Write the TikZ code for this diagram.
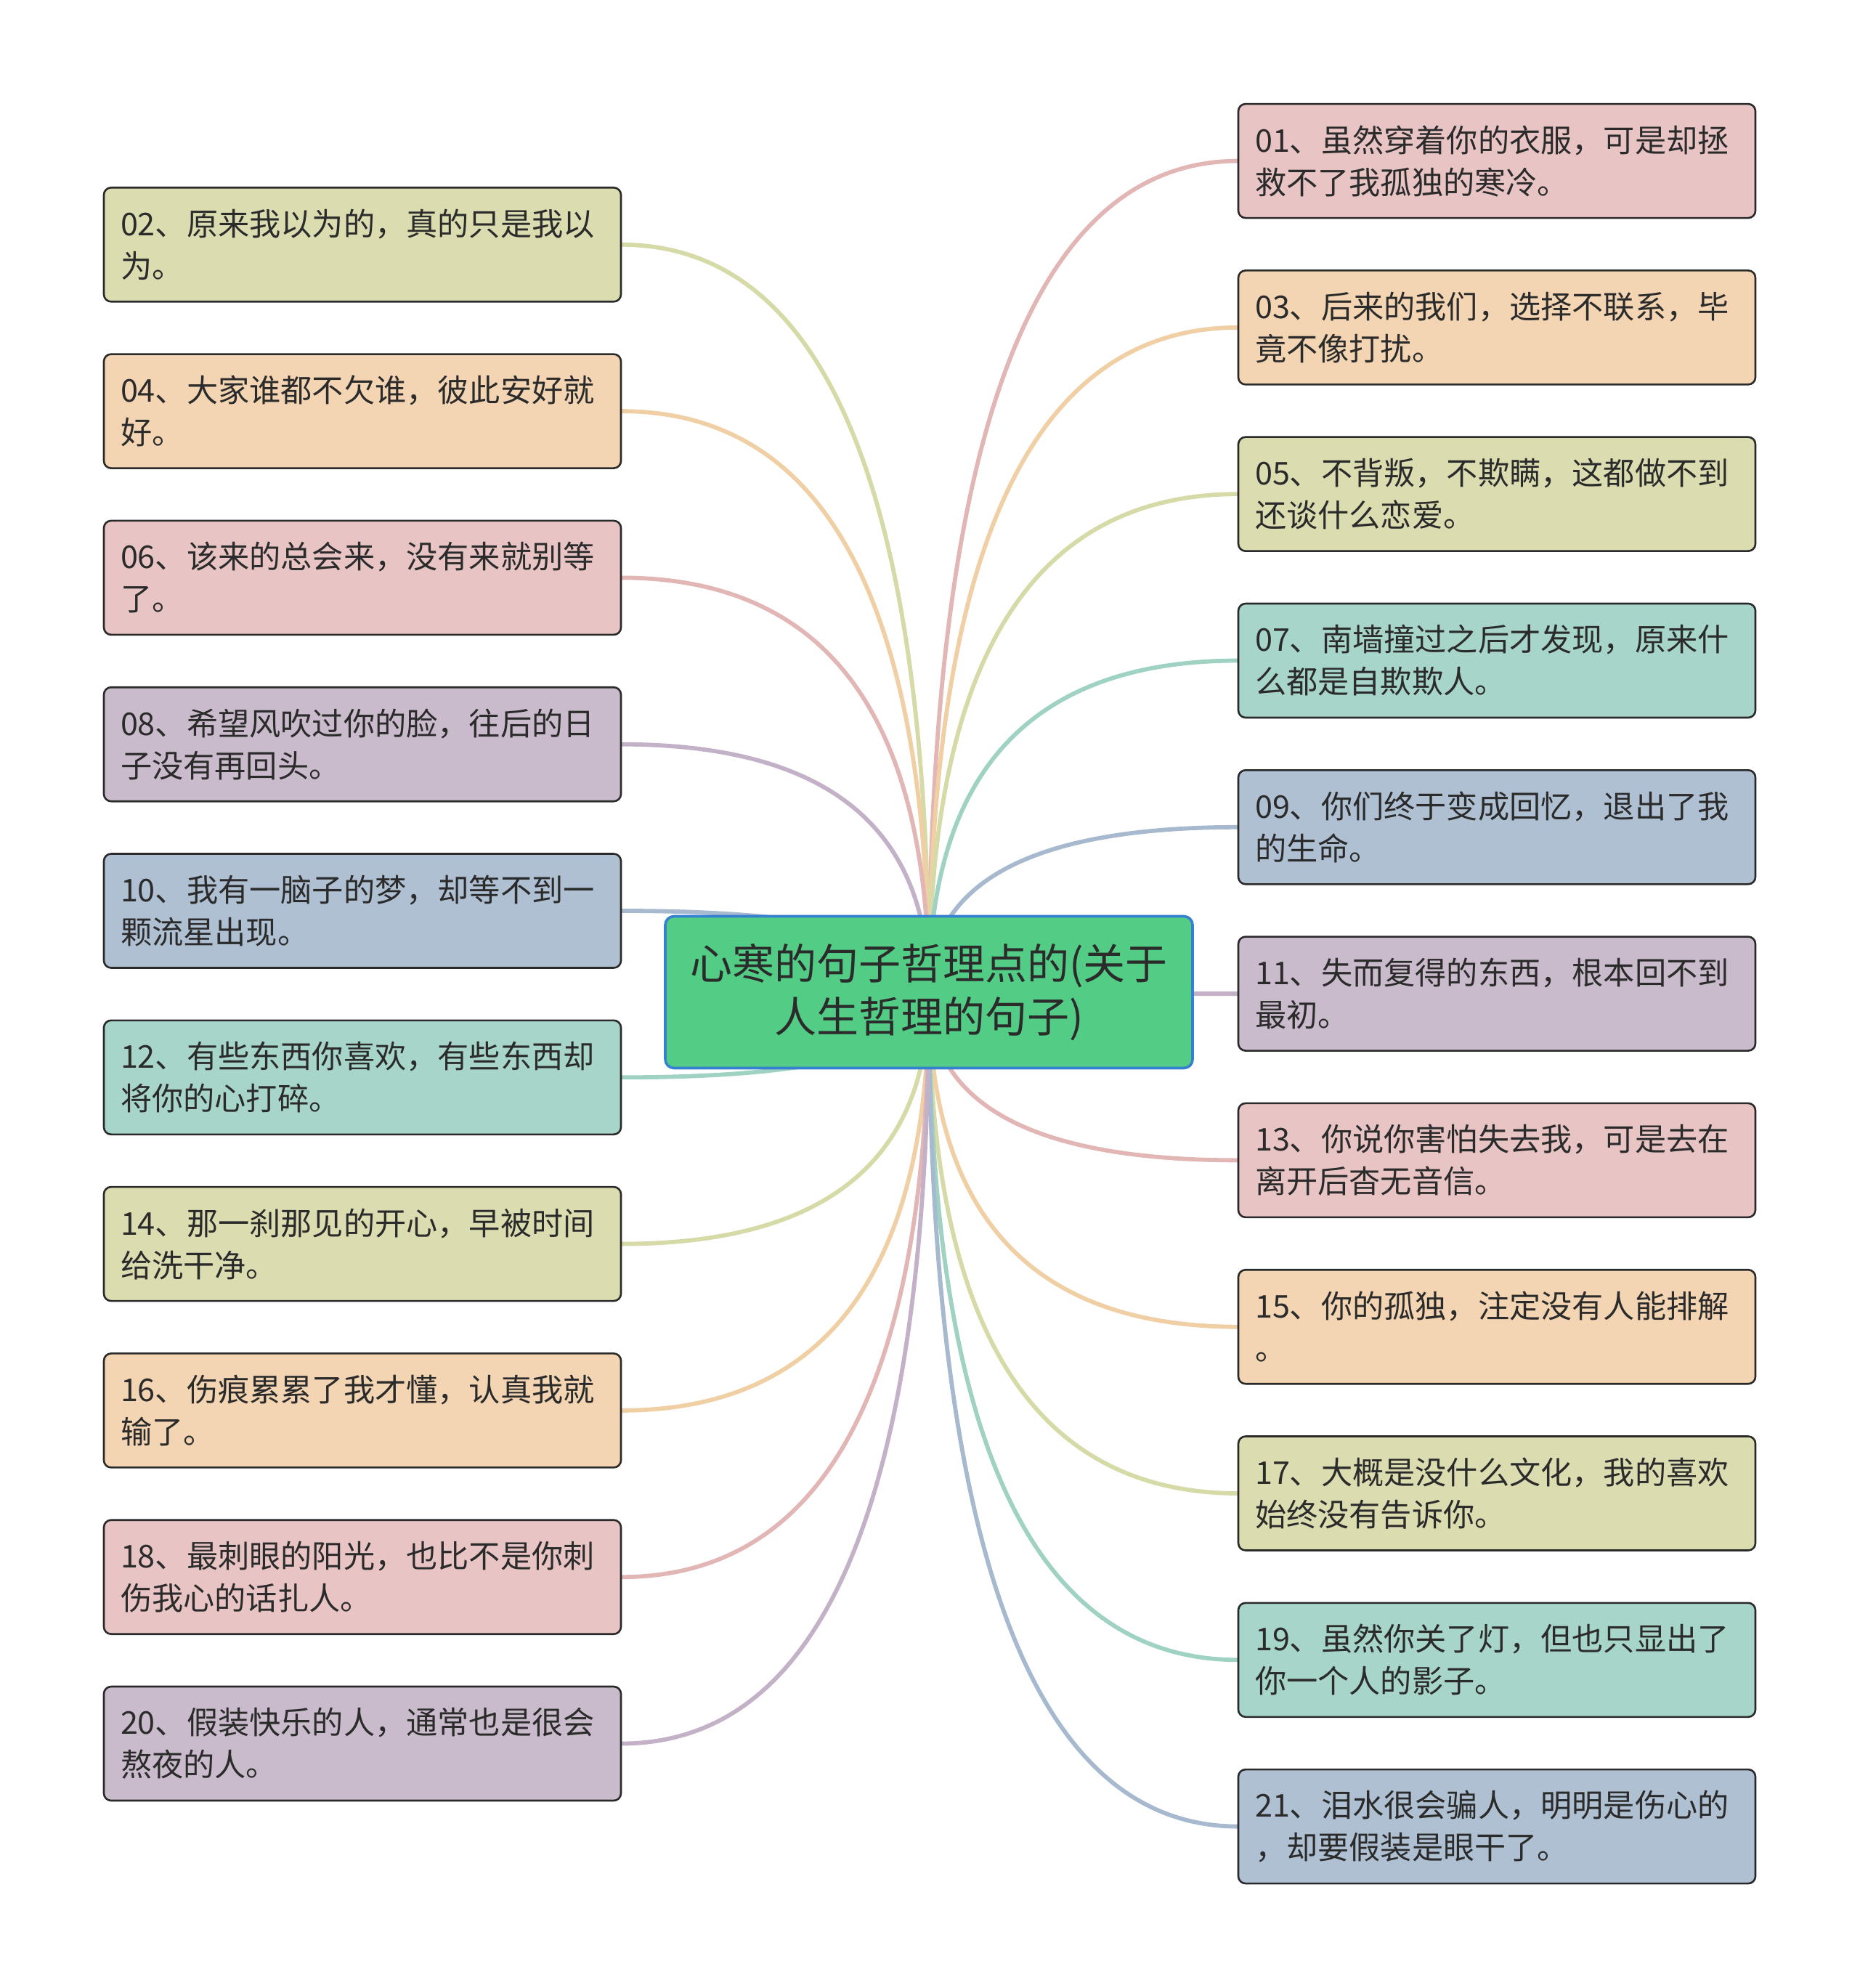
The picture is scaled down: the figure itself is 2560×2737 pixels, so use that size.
\documentclass[tikz,border=0pt]{standalone}
\usepackage{fontspec}
\newfontfamily\cjk{Noto Sans CJK SC}
\usetikzlibrary{calc,backgrounds}
\definecolor{fpink}{HTML}{E8C4C4}
\definecolor{lpink}{HTML}{E3B6B6}
\definecolor{fpeach}{HTML}{F3D5B3}
\definecolor{lpeach}{HTML}{F0CFA4}
\definecolor{folive}{HTML}{DBDDB1}
\definecolor{lolive}{HTML}{D6DAA6}
\definecolor{fteal}{HTML}{A8D5C9}
\definecolor{lteal}{HTML}{9FD2C3}
\definecolor{fblue}{HTML}{AFC0D3}
\definecolor{lblue}{HTML}{A6B9CF}
\definecolor{fpurple}{HTML}{C9BBCB}
\definecolor{lpurple}{HTML}{C3B2C7}
\definecolor{rootgreen}{HTML}{53CC85}
\definecolor{rootblue}{HTML}{3580D0}
\definecolor{boxline}{HTML}{2A2A2A}
\definecolor{txt}{HTML}{2B2B2B}
\tikzset{
  leaf/.style={draw=boxline, line width=0.65pt, rounded corners=2.5pt,
    minimum width=178pt, minimum height=39.25pt, text width=166.5pt,
    inner xsep=5.75pt, inner ysep=0pt, align=left, outer sep=0pt,
    font=\cjk\fontsize{10.8pt}{14.5pt}\selectfont, text=txt},
  rootbox/.style={draw=rootblue, fill=rootgreen, line width=0.9pt, rounded corners=3pt,
    minimum width=181.5pt, minimum height=52.25pt, align=center, outer sep=0pt,
    inner sep=0pt, font=\cjk\fontsize{14.5pt}{18.3pt}\selectfont, text=txt},
  linkline/.style={line width=1.45pt},
}
\newcommand\conn[2]{\draw[linkline,#2] (root.center) .. controls ($(root.center)!0.667!(root.center |- #1)$) and ($(#1)!0.667!(root.center |- #1)$) .. (#1);}
\begin{document}
\begin{tikzpicture}[x=0.25pt,y=-0.25pt]
\useasboundingbox (0,0) rectangle (2560,2737);
\node[rootbox] (root) at (1279,1366) {心寒的句子哲理点的(关于\\人生哲理的句子)};
% right leaves
\node[leaf, fill=fpink]   (R01) at (2061,221.6)  {01、虽然穿着你的衣服，可是却拯\\救不了我孤独的寒冷。};
\node[leaf, fill=fpeach]  (R03) at (2061,450.9)  {03、后来的我们，选择不联系，毕\\竟不像打扰。};
\node[leaf, fill=folive]  (R05) at (2061,680.2)  {05、不背叛，不欺瞒，这都做不到\\还谈什么恋爱。};
\node[leaf, fill=fteal]   (R07) at (2061,909.5)  {07、南墙撞过之后才发现，原来什\\么都是自欺欺人。};
\node[leaf, fill=fblue]   (R09) at (2061,1138.8) {09、你们终于变成回忆，退出了我\\的生命。};
\node[leaf, fill=fpurple] (R11) at (2061,1368.1) {11、失而复得的东西，根本回不到\\最初。};
\node[leaf, fill=fpink]   (R13) at (2061,1597.4) {13、你说你害怕失去我，可是去在\\离开后杳无音信。};
\node[leaf, fill=fpeach]  (R15) at (2061,1826.7) {15、你的孤独，注定没有人能排解\\。};
\node[leaf, fill=folive]  (R17) at (2061,2056.0) {17、大概是没什么文化，我的喜欢\\始终没有告诉你。};
\node[leaf, fill=fteal]   (R19) at (2061,2285.3) {19、虽然你关了灯，但也只显出了\\你一个人的影子。};
\node[leaf, fill=fblue]   (R21) at (2061,2514.6) {21、泪水很会骗人，明明是伤心的\\，却要假装是眼干了。};
% left leaves
\node[leaf, fill=folive]  (L02) at (499,336.8)  {02、原来我以为的，真的只是我以\\为。};
\node[leaf, fill=fpeach]  (L04) at (499,566.1)  {04、大家谁都不欠谁，彼此安好就\\好。};
\node[leaf, fill=fpink]   (L06) at (499,795.4)  {06、该来的总会来，没有来就别等\\了。};
\node[leaf, fill=fpurple] (L08) at (499,1024.7) {08、希望风吹过你的脸，往后的日\\子没有再回头。};
\node[leaf, fill=fblue]   (L10) at (499,1254.0) {10、我有一脑子的梦，却等不到一\\颗流星出现。};
\node[leaf, fill=fteal]   (L12) at (499,1483.3) {12、有些东西你喜欢，有些东西却\\将你的心打碎。};
\node[leaf, fill=folive]  (L14) at (499,1712.6) {14、那一刹那见的开心，早被时间\\给洗干净。};
\node[leaf, fill=fpeach]  (L16) at (499,1941.9) {16、伤痕累累了我才懂，认真我就\\输了。};
\node[leaf, fill=fpink]   (L18) at (499,2171.2) {18、最刺眼的阳光，也比不是你刺\\伤我心的话扎人。};
\node[leaf, fill=fpurple] (L20) at (499,2400.5) {20、假装快乐的人，通常也是很会\\熬夜的人。};
% connectors behind the boxes
\begin{scope}[on background layer]
\fill[white] (0,0) rectangle (2560,2737);
\conn{R01.west}{lpink}
\conn{R03.west}{lpeach}
\conn{R05.west}{lolive}
\conn{R07.west}{lteal}
\conn{R09.west}{lblue}
\conn{R11.west}{lpurple}
\conn{R13.west}{lpink}
\conn{R15.west}{lpeach}
\conn{R17.west}{lolive}
\conn{R19.west}{lteal}
\conn{R21.west}{lblue}
\conn{L02.east}{lolive}
\conn{L04.east}{lpeach}
\conn{L06.east}{lpink}
\conn{L08.east}{lpurple}
\conn{L10.east}{lblue}
\conn{L12.east}{lteal}
\conn{L14.east}{lolive}
\conn{L16.east}{lpeach}
\conn{L18.east}{lpink}
\conn{L20.east}{lpurple}
\end{scope}
\end{tikzpicture}
\end{document}
